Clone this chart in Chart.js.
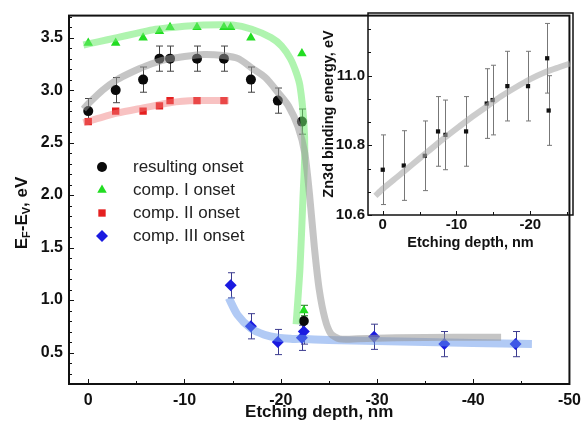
<!DOCTYPE html>
<html>
<head>
<meta charset="utf-8">
<script src="https://cdn.jsdelivr.net/npm/chart.js@4.4.0/dist/chart.umd.min.js"></script>
<style>
  html, body { margin: 0; padding: 0; background: #fff; }
  #wrap { position: relative; width: 588px; height: 428px; overflow: hidden; }
  #main { position: absolute; left: 0; top: 0; }
  #inset { position: absolute; left: 300px; top: 0; }
</style>
</head>
<body>
<div id="wrap">
  <canvas id="main" width="588" height="428"></canvas>
  <canvas id="inset" width="288" height="262"></canvas>
</div>
<script>
// ---- main panel data ----
const resDepth = [0, -2.85, -5.7, -7.4, -8.5, -11.3, -14.1, -16.9, -19.7, -22.2, -22.4];
const resOnset = [2.8, 3.0, 3.1, 3.3, 3.3, 3.3, 3.3, 3.1, 2.9, 2.7, 0.8];
const resErr   = [0.12, 0.12, 0.12, 0.12, 0.12, 0.12, 0.12, 0.12, 0.12, 0.12, 0];

const c1Depth = [0, -2.85, -5.7, -7.4, -8.5, -11.3, -14.1, -14.8, -16.9, -22.2, -22.4];
const c1Onset = [3.45, 3.45, 3.5, 3.56, 3.6, 3.6, 3.6, 3.6, 3.5, 3.35, 0.9];
const c1Err   = [0, 0, 0, 0, 0, 0, 0, 0, 0, 0, 0.05];

const c2Depth = [0, -2.85, -5.7, -7.4, -8.5, -11.3, -14.1];
const c2Onset = [2.7, 2.8, 2.8, 2.85, 2.9, 2.9, 2.9];

const c3Depth = [-14.8, -16.9, -19.7, -22.2, -22.4, -29.7, -37.0, -44.4];
const c3Onset = [1.14, 0.75, 0.6, 0.64, 0.7, 0.65, 0.58, 0.58];
const c3Err   = [0.12, 0.12, 0.12, 0.12, 0.12, 0.12, 0.12, 0.12];

// guide-to-the-eye curves
const fitResX = [0.5, 0, -1.5, -3, -4.5, -6, -8, -10, -12, -14, -15.6, -17, -18.4, -19.7, -20.8, -21.8, -22.5, -23, -23.5, -24, -24.6, -25.2, -26.1, -28, -32, -38, -42.9];
const fitResY = [2.82, 2.87, 3.0, 3.1, 3.17, 3.23, 3.29, 3.32, 3.34, 3.33, 3.30, 3.21, 3.12, 2.98, 2.85, 2.65, 2.4, 2.0, 1.5, 1.1, 0.82, 0.68, 0.63, 0.63, 0.64, 0.645, 0.645];
const fitC1X = [0.5, -1, -3, -5, -7, -9, -12, -15, -17, -19, -20.1, -21.0, -21.6, -22.0, -22.4, -22.5, -22.3, -22.0, -21.6];
const fitC1Y = [3.43, 3.46, 3.5, 3.54, 3.58, 3.6, 3.62, 3.62, 3.58, 3.5, 3.42, 3.3, 3.17, 3.04, 2.7, 2.4, 1.95, 1.3, 0.77];
const fitC2X = [0.5, -1, -3, -5.7, -8.5, -11.3, -14.6];
const fitC2Y = [2.69, 2.73, 2.78, 2.83, 2.88, 2.9, 2.9];
const fitC3X = [-14.6, -15.5, -16.9, -18.3, -19.7, -21, -22, -25, -30, -35, -40, -46.1];
const fitC3Y = [1.02, 0.86, 0.73, 0.67, 0.64, 0.63, 0.63, 0.62, 0.61, 0.6, 0.59, 0.58];

const mainXTicks = [0, -10, -20, -30, -40, -50];
const mainYTicks = [0.5, 1.0, 1.5, 2.0, 2.5, 3.0, 3.5];

// ---- inset data ----
const znDepth = [0, -2.85, -5.7, -7.5, -8.5, -11.3, -14.1, -14.9, -16.9, -19.7, -22.3, -22.5];
const znEnergy = [10.73, 10.742, 10.77, 10.84, 10.83, 10.84, 10.92, 10.93, 10.97, 10.97, 11.05, 10.9];
const znErr = [0.1, 0.1, 0.1, 0.1, 0.1, 0.1, 0.1, 0.1, 0.1, 0.1, 0.1, 0.1];
const fitZnX = [1, 0, -2, -4, -6, -8, -10, -12, -14, -16, -18, -20, -22, -24, -25.4];
const fitZnY = [10.655, 10.675, 10.71, 10.745, 10.78, 10.815, 10.848, 10.88, 10.91, 10.94, 10.966, 10.99, 11.01, 11.025, 11.035];

const insetXTicks = [0, -10, -20];
const insetYTicks = [10.6, 10.8, 11.0];

const FONT = 'Arial, "Liberation Sans", sans-serif';
const pts = (xs, ys) => xs.map((x, i) => ({x: x, y: ys[i]}));
const range = (a, b, s) => { const r = []; for (let v = a; v >= b - 1e-9; v -= s) r.push(+v.toFixed(4)); return r; };

function band(xs, ys, color, w) {
  return { data: pts(xs, ys), showLine: true, pointRadius: 0, borderColor: color,
           borderWidth: w, tension: 0.25, borderCapStyle: 'butt', order: 0 };
}
function marks(xs, ys, errs, style, r, color, errColor) {
  return { data: pts(xs, ys), showLine: false, pointStyle: style, pointRadius: r,
           backgroundColor: color, borderWidth: 0, errors: errs, errColor: errColor, order: 1 };
}

// error bars, drawn under the translucent curves
const errorBars = {
  id: 'errorBars',
  beforeDatasetsDraw(chart, args, opts) {
    const ctx = chart.ctx, xs = chart.scales.x, ys = chart.scales.y;
    ctx.save();
    chart.data.datasets.forEach(ds => {
      if (!ds.errors) return;
      ctx.strokeStyle = ds.errColor;
      ctx.lineWidth = 1;
      ds.data.forEach((p, i) => {
        const e = ds.errors[i];
        if (!e) return;
        const px = Math.round(xs.getPixelForValue(p.x)) + 0.5;
        const top = ys.getPixelForValue(p.y + e), bot = ys.getPixelForValue(p.y - e);
        ctx.beginPath();
        ctx.moveTo(px, top); ctx.lineTo(px, bot);
        ctx.moveTo(px - opts.cap, top); ctx.lineTo(px + opts.cap, top);
        ctx.moveTo(px - opts.cap, bot); ctx.lineTo(px + opts.cap, bot);
        ctx.stroke();
      });
    });
    ctx.restore();
  }
};

// frame with inward ticks
const frame = {
  id: 'frame',
  afterDraw(chart, args, o) {
    const ctx = chart.ctx, a = chart.chartArea, xs = chart.scales.x, ys = chart.scales.y;
    ctx.save();
    ctx.strokeStyle = '#111';
    ctx.lineWidth = 1;
    ctx.beginPath();
    o.xMajor.forEach(v => { const p = Math.round(xs.getPixelForValue(v)) + 0.5; ctx.moveTo(p, a.bottom); ctx.lineTo(p, a.bottom - o.major); });
    o.xMinor.forEach(v => { const p = Math.round(xs.getPixelForValue(v)) + 0.5; ctx.moveTo(p, a.bottom); ctx.lineTo(p, a.bottom - o.minor); });
    o.yMajor.forEach(v => { const p = Math.round(ys.getPixelForValue(v)) + 0.5; ctx.moveTo(a.left, p); ctx.lineTo(a.left + o.major, p); });
    o.yMinor.forEach(v => { const p = Math.round(ys.getPixelForValue(v)) + 0.5; ctx.moveTo(a.left, p); ctx.lineTo(a.left + o.minor, p); });
    ctx.stroke();
    ctx.lineWidth = o.lw;
    ctx.strokeRect(a.left, a.top, a.right - a.left, a.bottom - a.top);
    ctx.restore();
  }
};

// axis titles and legend for the main panel
const mainDecor = {
  id: 'mainDecor',
  afterDraw(chart) {
    const ctx = chart.ctx, a = chart.chartArea;
    ctx.save();
    ctx.fillStyle = '#111';
    ctx.font = 'bold 17px ' + FONT;
    ctx.textAlign = 'center';
    ctx.textBaseline = 'middle';
    ctx.fillText('Etching depth, nm', (a.left + a.right) / 2, 412);

    // E_F-E_V, eV rotated
    const parts = [['E', 17, 0], ['F', 11, 5], ['-E', 17, 0], ['V', 11, 5], [', eV', 17, 0]];
    let total = 0;
    parts.forEach(p => { ctx.font = 'bold ' + p[1] + 'px ' + FONT; total += ctx.measureText(p[0]).width; });
    ctx.translate(22, 213);
    ctx.rotate(-Math.PI / 2);
    ctx.textAlign = 'left';
    let x = -total / 2;
    parts.forEach(p => {
      ctx.font = 'bold ' + p[1] + 'px ' + FONT;
      ctx.fillText(p[0], x, p[2]);
      x += ctx.measureText(p[0]).width;
    });
    ctx.restore();

    // legend
    const items = [
      ['resulting onset', 'circle', 5, '#0a0a0a'],
      ['comp. I onset', 'triangle', 5.5, '#22dd22'],
      ['comp. II onset', 'rect', 5.2, '#e52020'],
      ['comp. III onset', 'rectRot', 6, '#1a1ae0']
    ];
    ctx.save();
    ctx.font = '17px ' + FONT;
    ctx.textBaseline = 'middle';
    items.forEach((it, i) => {
      const y = 167 + i * 23;
      ctx.fillStyle = it[3];
      Chart.helpers.drawPoint(ctx, {pointStyle: it[1], radius: it[2], rotation: 0, borderWidth: 0}, 102, y);
      ctx.fillStyle = '#222';
      ctx.fillText(it[0], 133, y);
    });
    ctx.restore();
  }
};

const insetDecor = {
  id: 'insetDecor',
  afterDraw(chart) {
    const ctx = chart.ctx, a = chart.chartArea;
    ctx.save();
    ctx.fillStyle = '#111';
    ctx.font = 'bold 14.5px ' + FONT;
    ctx.textAlign = 'center';
    ctx.textBaseline = 'middle';
    ctx.fillText('Etching depth, nm', (a.left + a.right) / 2, 243);
    ctx.translate(29, (a.top + a.bottom) / 2);
    ctx.rotate(-Math.PI / 2);
    ctx.fillText('Zn3d binding energy, eV', 0, 0);
    ctx.restore();
  }
};

function axis(min, max, reverse, ticks, fmt, size, pad, fit) {
  return {
    type: 'linear', min: min, max: max, reverse: reverse,
    grid: { display: false, drawTicks: false }, border: { display: false },
    ticks: { font: { family: FONT, size: size, weight: 'bold' }, color: '#111', padding: pad,
             autoSkip: false, maxRotation: 0, callback: fmt },
    afterBuildTicks: s => { s.ticks = ticks.map(v => ({value: v})); },
    afterFit: fit
  };
}

const fmtX = v => (v === 0 ? '0' : String(v));
const fmtY = v => v.toFixed(1);

new Chart(document.getElementById('main'), {
  type: 'scatter',
  data: { datasets: [
    band(fitResX, fitResY, 'rgba(150,150,150,0.55)', 7),
    band(fitC1X, fitC1Y, 'rgba(110,235,110,0.55)', 7),
    band(fitC2X, fitC2Y, 'rgba(240,120,120,0.45)', 7),
    band(fitC3X, fitC3Y, 'rgba(100,150,235,0.5)', 8),
    marks(resDepth, resOnset, resErr, 'circle', 5, '#0a0a0a', '#444'),
    marks(c1Depth, c1Onset, c1Err, 'triangle', 5.5, '#22dd22', '#1a7a1a'),
    marks(c2Depth, c2Onset, null, 'rect', 5.2, '#e52020', '#444'),
    marks(c3Depth, c3Onset, c3Err, 'rectRot', 6, '#1a1ae0', '#3b3b8f')
  ]},
  options: {
    responsive: false, animation: false, events: [],
    layout: { padding: { top: 13, right: 14, left: 0, bottom: 0 } },
    scales: {
      x: axis(-50, 2, true, mainXTicks, fmtX, 16, 7, s => { s.height = 44; }),
      y: axis(0.2, 3.71, false, mainYTicks, fmtY, 16, 6, s => { s.width = 69; })
    },
    plugins: {
      legend: { display: false }, tooltip: { enabled: false },
      errorBars: { cap: 3.5 },
      frame: { lw: 2, major: 5, minor: 3, xMajor: mainXTicks, xMinor: range(-5, -45, 10),
               yMajor: mainYTicks, yMinor: range(3.7, 0.3, 0.1).filter(v => Math.abs(v * 2 - Math.round(v * 2)) > 1e-6) }
    }
  },
  plugins: [errorBars, frame, mainDecor]
});

new Chart(document.getElementById('inset'), {
  type: 'scatter',
  data: { datasets: [
    band(fitZnX, fitZnY, 'rgba(170,170,170,0.6)', 6),
    marks(znDepth, znEnergy, znErr, 'rect', 3, '#111', '#777')
  ]},
  options: {
    responsive: false, animation: false, events: [],
    layout: { padding: { top: 13, right: 15, left: 0, bottom: 0 } },
    scales: {
      x: axis(-25.8, 2, true, insetXTicks, fmtX, 15, 1, s => { s.height = 47; }),
      y: axis(10.6, 11.18, false, insetYTicks, fmtY, 15, 3, s => { s.width = 68; })
    },
    plugins: {
      legend: { display: false }, tooltip: { enabled: false },
      errorBars: { cap: 2.5 },
      frame: { lw: 1.5, major: 4, minor: 3, xMajor: insetXTicks, xMinor: [-5, -15, -25],
               yMajor: insetYTicks, yMinor: [10.667, 10.733, 10.867, 10.933, 11.067, 11.133] }
    }
  },
  plugins: [errorBars, frame, insetDecor]
});
</script>
</body>
</html>
